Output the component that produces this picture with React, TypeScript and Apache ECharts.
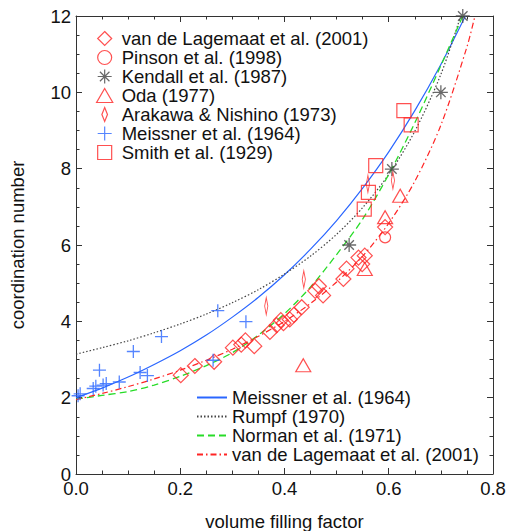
import React, { useEffect, useRef } from "react";
import * as echarts from "echarts";

const FONT = "'Liberation Sans', Arial, Helvetica, sans-serif";

// Scatter data [volume filling factor, coordination number]
const lagemaatPts = [
  [0.201, 2.59], [0.228, 2.83], [0.265, 2.94], [0.301, 3.31], [0.317, 3.39], [0.325, 3.5],
  [0.342, 3.35], [0.372, 3.72], [0.385, 3.9], [0.393, 4.03], [0.398, 3.95], [0.41, 4.05],
  [0.418, 4.17], [0.433, 4.37], [0.459, 4.8], [0.466, 4.92], [0.474, 4.68], [0.513, 5.11],
  [0.519, 5.38], [0.542, 5.67], [0.554, 5.72], [0.549, 5.5], [0.593, 6.47],
];
const pinsonPts = [[0.593, 6.2]];
const kendallPts = [[0.524, 6.0], [0.606, 7.99], [0.7, 10.0], [0.742, 12.0]];
const odaPts = [[0.436, 2.85], [0.554, 5.37], [0.593, 6.73], [0.622, 7.29]];
const arakawaPts = [[0.365, 4.4], [0.437, 5.1], [0.56, 7.6], [0.608, 7.69]];
const meissnerPts = [
  [0.004, 2.05], [0.008, 2.1], [0.033, 2.24], [0.038, 2.3], [0.045, 2.72], [0.052, 2.33],
  [0.058, 2.37], [0.083, 2.41], [0.11, 3.21], [0.123, 2.66], [0.137, 2.58], [0.164, 3.6],
  [0.263, 2.98], [0.272, 4.28], [0.326, 3.99],
];
const smithPts = [[0.553, 6.94], [0.561, 7.38], [0.575, 8.08], [0.629, 9.52], [0.643, 9.15]];

// Model curves
const meissnerX = [0, 0.05, 0.1, 0.15, 0.2, 0.25, 0.3, 0.35, 0.4, 0.45, 0.5, 0.55, 0.6, 0.65, 0.7, 0.747];
const meissnerY = [2.0, 2.25, 2.54, 2.87, 3.23, 3.64, 4.11, 4.63, 5.22, 5.89, 6.64, 7.49, 8.44, 9.52, 10.73, 12.0];
const rumpfX = [0, 0.05, 0.1, 0.15, 0.2, 0.25, 0.3, 0.35, 0.4, 0.45, 0.5, 0.55, 0.6, 0.65, 0.7, 0.738];
const rumpfY = [3.14, 3.31, 3.49, 3.7, 3.93, 4.19, 4.49, 4.83, 5.24, 5.71, 6.28, 6.98, 7.85, 8.98, 10.47, 12.0];
const normanX = [0, 0.05, 0.1, 0.15, 0.2, 0.25, 0.3, 0.35, 0.4, 0.45, 0.5, 0.55, 0.6, 0.65, 0.7, 0.742];
const normanY = [1.96, 2.06, 2.16, 2.33, 2.56, 2.84, 3.18, 3.64, 4.2, 4.9, 5.75, 6.68, 7.85, 9.2, 10.7, 12.0];
const vdlX = [0, 0.05, 0.1, 0.15, 0.2, 0.25, 0.3, 0.35, 0.4, 0.45, 0.5, 0.55, 0.6, 0.65, 0.7, 0.75, 0.765];
const vdlY = [1.95, 2.11, 2.29, 2.49, 2.72, 2.98, 3.27, 3.61, 4.0, 4.47, 5.03, 5.71, 6.57, 7.67, 9.14, 11.19, 11.98];

const scatterNames = [
  "van de Lagemaat et al. (2001)",
  "Pinson et al. (1998)",
  "Kendall et al. (1987)",
  "Oda (1977)",
  "Arakawa & Nishino (1973)",
  "Meissner et al. (1964)",
  "Smith et al. (1929)",
];
const lineNames = [
  "Meissner et al. (1964) ",
  "Rumpf (1970)",
  "Norman et al. (1971)",
  "van de Lagemaat et al. (2001) ",
];

const RED = "#ff2424";
const BLUE = "#2a66ff";
const GRAY = "#444444";
const GREEN = "#28dc28";

const SYM_DIAMOND = "path://M5,0L10,5L5,10L0,5Z";
const SYM_CIRCLE = "path://M10,5A5,5,0,1,1,0,5A5,5,0,1,1,10,5Z";
const SYM_STAR = "path://M5,0V10M0,5H10M1.6,1.6L8.4,8.4M1.6,8.4L8.4,1.6";
const SYM_TRI = "path://M7.5,0L15,13L0,13Z";
const SYM_THIN = "path://M4,0L8,10L4,20L0,10Z";
const SYM_PLUS = "path://M5,0V10M0,5H10";
const SYM_SQUARE = "path://M0,0H10V10H0Z";

const pair = (xs: number[], ys: number[]) => xs.map((x, i) => [x, ys[i]]);

export default function App() {
  const ref = useRef<HTMLDivElement>(null);
  useEffect(() => {
    if (!ref.current) return;
    const chart = echarts.init(ref.current, null, { renderer: "svg" });
    const openStyle = (c: string, w = 1.2) => ({ color: "transparent", borderColor: c, borderWidth: w });
    const axisCommon = {
      type: "value",
      axisLine: { show: true, onZero: false, lineStyle: { color: "#333", width: 1 } },
      axisTick: { show: true, inside: true, length: 6, lineStyle: { color: "#333" } },
      minorTick: { show: true, splitNumber: 4, length: 3.5, lineStyle: { color: "#333" } },
      splitLine: { show: false },
    };
    const labelStyle = { fontSize: 18.5, color: "#111", fontFamily: FONT };
    const option: any = {
      animation: false,
      backgroundColor: "#fff",
      grid: { left: 76, right: 15, top: 16, bottom: 57, containLabel: false, outerBoundsMode: "none" },
      xAxis: [
        {
          ...axisCommon,
          min: 0, max: 0.8, interval: 0.2, position: "bottom",
          axisLabel: { ...labelStyle, margin: 5, formatter: (v: number) => v.toFixed(1) },
          name: "volume filling factor", nameLocation: "middle", nameGap: 38,
          nameTextStyle: labelStyle,
        },
        { ...axisCommon, min: 0, max: 0.8, interval: 0.2, position: "top", axisLabel: { show: false } },
      ],
      yAxis: [
        {
          ...axisCommon,
          min: 0, max: 12, interval: 2, position: "left",
          axisLabel: { ...labelStyle, margin: 5 },
          name: "coordination number", nameLocation: "middle", nameGap: 49,
          nameTextStyle: labelStyle,
        },
        { ...axisCommon, min: 0, max: 12, interval: 2, position: "right", axisLabel: { show: false } },
      ],
      legend: [
        {
          data: scatterNames, orient: "vertical", left: 96, top: 29, padding: 0,
          itemWidth: 24, itemHeight: 14, itemGap: 0, selectedMode: false,
          symbolKeepAspect: true,
          itemStyle: { borderWidth: 1.2 },
          textStyle: { ...labelStyle, lineHeight: 18.8 },
        },
        {
          data: lineNames,
          orient: "vertical", left: 196, top: 388, padding: 0,
          itemWidth: 30, itemHeight: 14, itemGap: 0, selectedMode: false,
          itemStyle: { color: "transparent", borderColor: "transparent", borderWidth: 0, opacity: 0 },
          textStyle: { ...labelStyle, lineHeight: 18.7 },
        },
      ],
      series: [
        { type: "line", name: lineNames[0], data: pair(meissnerX, meissnerY), smooth: 0.3, symbol: "none", lineStyle: { color: BLUE, width: 1.2 }, itemStyle: { color: BLUE }, z: 1 },
        { type: "line", name: lineNames[1], data: pair(rumpfX, rumpfY), smooth: 0.3, symbol: "none", lineStyle: { color: GRAY, width: 1.2, type: [1.5, 2] }, itemStyle: { color: GRAY }, z: 1 },
        { type: "line", name: lineNames[2], data: pair(normanX, normanY), smooth: 0.3, symbol: "none", lineStyle: { color: GREEN, width: 1.3, type: [7, 4] }, itemStyle: { color: GREEN }, z: 1 },
        { type: "line", name: lineNames[3], data: pair(vdlX, vdlY), smooth: 0.3, symbol: "none", lineStyle: { color: RED, width: 1.2, type: [6, 3, 1.5, 3] }, itemStyle: { color: RED }, z: 1 },
        { type: "scatter", name: scatterNames[0], data: lagemaatPts, symbol: SYM_DIAMOND, symbolSize: 15, itemStyle: openStyle(RED), z: 3 },
        { type: "scatter", name: scatterNames[1], data: pinsonPts, symbol: SYM_CIRCLE, symbolSize: 11, itemStyle: openStyle(RED), z: 3 },
        { type: "scatter", name: scatterNames[2], data: kendallPts, symbol: SYM_STAR, symbolSize: 14, itemStyle: openStyle(GRAY, 1.3), z: 3 },
        { type: "scatter", name: scatterNames[3], data: odaPts, symbol: SYM_TRI, symbolSize: [15, 13], itemStyle: openStyle(RED), z: 3 },
        { type: "scatter", name: scatterNames[4], data: arakawaPts, symbol: SYM_THIN, symbolSize: [8, 17], symbolKeepAspect: true, itemStyle: openStyle(RED), z: 3 },
        { type: "scatter", name: scatterNames[5], data: meissnerPts, symbol: SYM_PLUS, symbolSize: 13, itemStyle: openStyle(BLUE, 1.3), z: 3 },
        { type: "scatter", name: scatterNames[6], data: smithPts, symbol: SYM_SQUARE, symbolSize: 14, itemStyle: openStyle(RED), z: 3 },
      ],
    };
    chart.setOption(option);
    return () => chart.dispose();
  }, []);
  return (
    <div
      ref={ref}
      style={{ position: "absolute", left: 0, top: 0, width: 508, height: 531, background: "#fff" }}
    />
  );
}
